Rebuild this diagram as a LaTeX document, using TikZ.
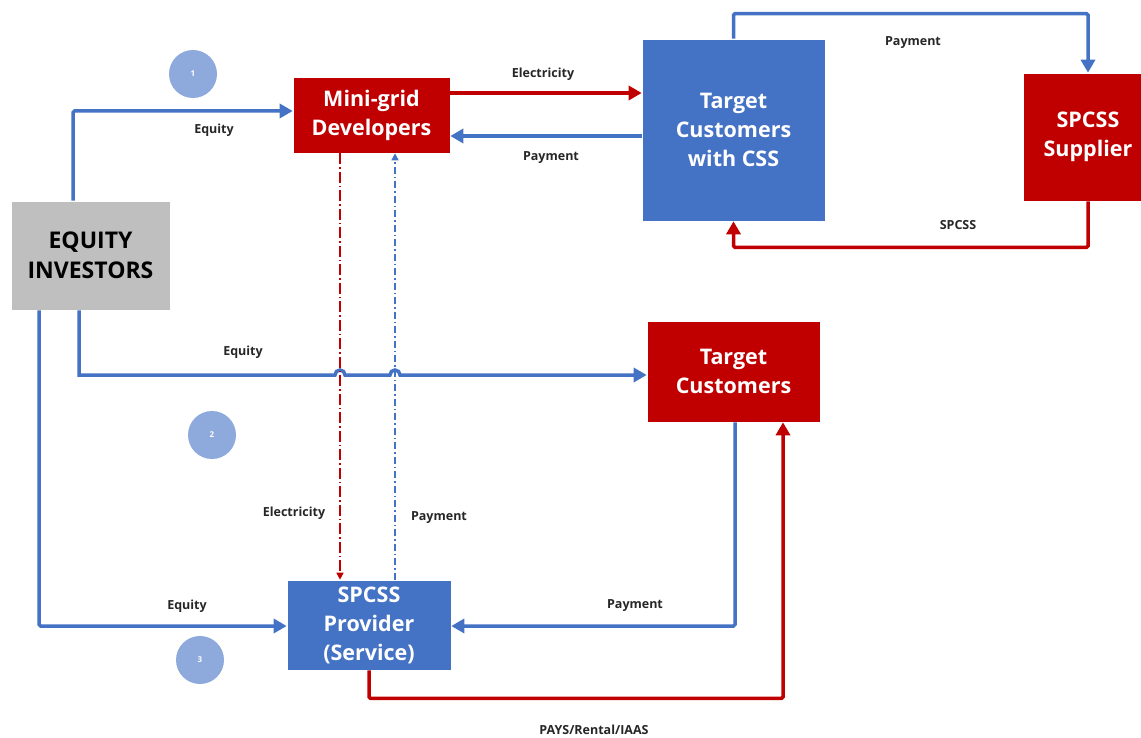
\documentclass[tikz,border=0pt]{standalone}
\usepackage{fontspec}
\setmainfont{Open Sans}
\usetikzlibrary{arrows.meta}
\definecolor{bred}{HTML}{C00000}
\definecolor{bblue}{HTML}{4472C4}
\definecolor{bgray}{HTML}{BFBFBF}
\definecolor{cblue}{HTML}{8EA9DB}
\tikzset{
  box/.style={draw=white, line width=0.6pt, inner sep=0pt, align=center, font=\fontsize{21.5}{29}\selectfont\bfseries, text=white},
  redbox/.style={box, fill=bred},
  bluebox/.style={box, fill=bblue},
  graybox/.style={box, fill=bgray, text=black, font=\fontsize{23}{30}\selectfont\bfseries},
  num/.style={circle, fill=cblue, minimum size=48pt, inner sep=0pt, text=white, font=\fontsize{8}{9}\selectfont\bfseries},
  lbl/.style={font=\fontsize{12.5}{14}\selectfont\bfseries, text=black!85},
  tip/.style={-{Triangle[length=13pt,width=14pt]}},
  blueline/.style={draw=bblue, line width=3.5pt, tip, rounded corners=1.5pt},
  redline/.style={draw=bred, line width=3.5pt, tip, rounded corners=1.5pt},
  smalltip/.style={-{Triangle[length=7pt,width=7pt]}},
  reddash/.style={draw=bred, line width=1.5pt, smalltip, dash pattern=on 11pt off 3pt on 1.5pt off 3pt},
  bluedash/.style={draw=bblue, line width=1.5pt, smalltip, dash pattern=on 7pt off 3pt on 1.5pt off 3pt},
}
\begin{document}
\begin{tikzpicture}[x=1pt,y=-1pt]
\useasboundingbox[fill=white] (0,0) rectangle (1141,738);
% nodes
\node[graybox, minimum width=159pt, minimum height=109pt] (inv) at (90.5,255.5) {EQUITY\\INVESTORS};
\node[redbox, minimum width=157pt, minimum height=76pt] (mg) at (371.5,115) {Mini-grid\\Developers};
\node[bluebox, minimum width=183pt, minimum height=182pt] (css) at (733.5,130) {Target\\Customers\\with CSS};
\node[redbox, minimum width=130pt, minimum height=128pt] (sup) at (1088,137) {SPCSS\\Supplier};
\node[redbox, minimum width=173pt, minimum height=101pt] (tc) at (733.5,371.5) {Target\\Customers};
\node[bluebox, minimum width=164pt, minimum height=90pt] (prov) at (369,625) {SPCSS\\Provider\\(Service)};
\node[num] (n1) at (193,74) {1};
\node[num] (n2) at (212,435) {2};
\node[num] (n3) at (200,660) {3};
% connectors
\draw[blueline] (inv.north -| 73,0) |- (mg.west |- 0,111);
\draw[redline] (mg.east |- 0,93) -- (css.west |- 0,93);
\draw[blueline] (css.west |- 0,136) -- (mg.east |- 0,136);
\draw[blueline] (css.north) -- ++(0,-25) -| (sup.north);
\draw[redline] (sup.south) -- ++(0,46) -| (css.south);
\draw[blueline, rounded corners=0pt] (inv.south -| 79,0) -- (79,375) -- (335,375) arc[start angle=180, end angle=360, radius=5] -- (390,375) arc[start angle=180, end angle=360, radius=5] -- (tc.west |- 0,375);
\draw[blueline] (inv.south -| 39,0) |- (prov.west |- 0,626);
\draw[reddash] (mg.south -| 340,0) -- (prov.north -| 340,0);
\draw[bluedash] (prov.north -| 395,0) -- (mg.south -| 395,0);
\draw[blueline] (tc.south -| 735,0) |- (prov.east |- 0,626);
\draw[redline] (prov.south) -- ++(0,28) -| (tc.south -| 783,0);
% labels
\node[lbl] (l1) at (214,130) {Equity};
\node[lbl] (l2) at (543,74) {Electricity};
\node[lbl] (l3) at (551,158) {Payment};
\node[lbl] (l4) at (913,43) {Payment};
\node[lbl] (l5) at (958,225) {SPCSS};
\node[lbl] (l6) at (243,352) {Equity};
\node[lbl] (l7) at (294,513) {Electricity};
\node[lbl] (l8) at (439,518) {Payment};
\node[lbl] (l9) at (187,606) {Equity};
\node[lbl] (l10) at (635,606) {Payment};
\node[lbl] (l11) at (594,730) {PAYS/Rental/IAAS};
\end{tikzpicture}
\end{document}
